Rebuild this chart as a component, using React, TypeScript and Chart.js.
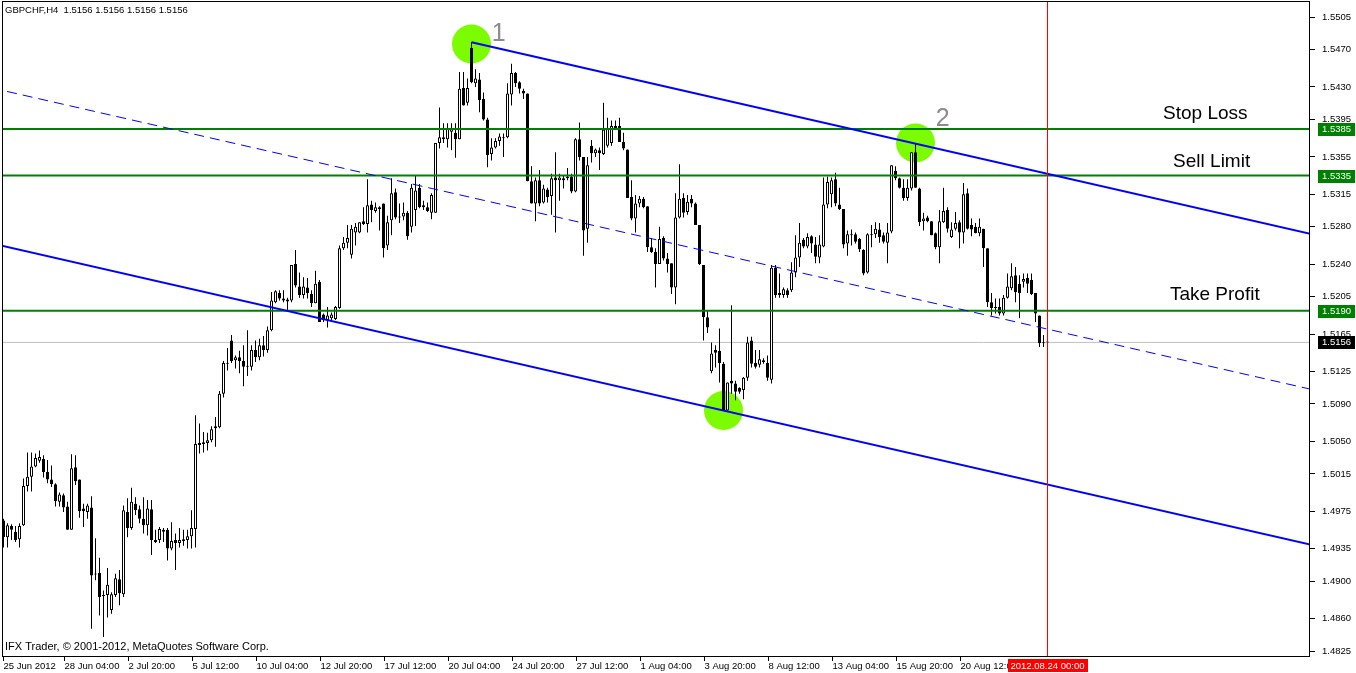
import { useEffect, useRef } from "react";
import { Chart, registerables } from "chart.js";

Chart.register(...registerables);

// GBPCHF H4 bars. Bar numbers count from Mon 25 Jun 2012 00:00 (bar 0),
// six bars per trading day; the first bar on screen is bar 3.
const SYMBOL = "GBPCHF,H4";
const FIRST_BAR = 3;

const opens = [
  1.4965, 1.4947, 1.4959, 1.4953, 1.4945, 1.4960, 1.5002, 1.5012, 1.5023, 1.5029,
  1.5031, 1.5017, 1.5009, 1.5004, 1.4985, 1.4992, 1.4980, 1.4955, 1.5022, 1.5009,
  1.4978, 1.4974, 1.4979, 1.4908, 1.4909, 1.4885, 1.4885, 1.4869, 1.4885, 1.4902,
  1.4886, 1.4974, 1.4957, 1.4983, 1.4977, 1.4967, 1.4960, 1.4977, 1.4944, 1.4944,
  1.4953, 1.4955, 1.4935, 1.4944, 1.4941, 1.4943, 1.4944, 1.4948, 1.4956, 1.5046,
  1.5047, 1.5048, 1.5051, 1.5064, 1.5065, 1.5101, 1.5133, 1.5158, 1.5137, 1.5140,
  1.5136, 1.5130, 1.5130, 1.5148, 1.5140, 1.5153, 1.5148, 1.5169, 1.5199, 1.5209,
  1.5203, 1.5202, 1.5201, 1.5240, 1.5216, 1.5207, 1.5215, 1.5208, 1.5198, 1.5221,
  1.5186, 1.5180, 1.5182, 1.5181, 1.5193, 1.5257, 1.5263, 1.5250, 1.5274, 1.5274,
  1.5286, 1.5283, 1.5304, 1.5297, 1.5301, 1.5305, 1.5260, 1.5287, 1.5317, 1.5291,
  1.5291, 1.5295, 1.5280, 1.5298, 1.5322, 1.5303, 1.5301, 1.5295, 1.5295, 1.5370,
  1.5374, 1.5374, 1.5382, 1.5381, 1.5374, 1.5429, 1.5413, 1.5472, 1.5434, 1.5438,
  1.5417, 1.5395, 1.5358, 1.5365, 1.5372, 1.5375, 1.5376, 1.5422, 1.5445, 1.5435,
  1.5426, 1.5423, 1.5329, 1.5305, 1.5330, 1.5306, 1.5320, 1.5313, 1.5333, 1.5330,
  1.5330, 1.5334, 1.5334, 1.5318, 1.5374, 1.5355, 1.5278, 1.5367, 1.5359, 1.5362,
  1.5358, 1.5367, 1.5370, 1.5386, 1.5388, 1.5371, 1.5363, 1.5312, 1.5289, 1.5305,
  1.5310, 1.5302, 1.5258, 1.5253, 1.5240, 1.5268, 1.5246, 1.5241, 1.5215, 1.5290,
  1.5311, 1.5296, 1.5310, 1.5305, 1.5282, 1.5239, 1.5183, 1.5125, 1.5148, 1.5147,
  1.5133, 1.5083, 1.5115, 1.5112, 1.5107, 1.5105, 1.5118, 1.5158, 1.5134, 1.5132,
  1.5137, 1.5134, 1.5116, 1.5236, 1.5209, 1.5207, 1.5212, 1.5212, 1.5231, 1.5247,
  1.5266, 1.5259, 1.5270, 1.5261, 1.5247, 1.5259, 1.5304, 1.5315, 1.5331, 1.5304,
  1.5299, 1.5262, 1.5272, 1.5272, 1.5267, 1.5255, 1.5231, 1.5271, 1.5272, 1.5277,
  1.5271, 1.5263, 1.5275, 1.5340, 1.5332, 1.5322, 1.5311, 1.5321, 1.5360, 1.5321,
  1.5286, 1.5290, 1.5286, 1.5273, 1.5258, 1.5285, 1.5298, 1.5269, 1.5278, 1.5285,
  1.5274, 1.5316, 1.5282, 1.5280, 1.5273, 1.5278, 1.5257, 1.5199, 1.5193, 1.5194,
  1.5187, 1.5204, 1.5214, 1.5228, 1.5219, 1.5221, 1.5225, 1.5223, 1.5209, 1.5185,
  1.5155, 1.5156,
];

const highs = [
  1.4967, 1.4962, 1.4961, 1.4959, 1.4962, 1.5010, 1.5038, 1.5038, 1.5037, 1.5040,
  1.5035, 1.5030, 1.5024, 1.5005, 1.4995, 1.4994, 1.4985, 1.5036, 1.5035, 1.5009,
  1.4983, 1.4983, 1.4991, 1.4946, 1.4925, 1.4890, 1.4914, 1.4888, 1.4908, 1.4912,
  1.4981, 1.4989, 1.5000, 1.4990, 1.4981, 1.4990, 1.4987, 1.4987, 1.4955, 1.4958,
  1.4957, 1.4957, 1.4963, 1.4951, 1.4957, 1.4955, 1.4955, 1.4976, 1.5078, 1.5069,
  1.5060, 1.5059, 1.5066, 1.5076, 1.5104, 1.5136, 1.5150, 1.5164, 1.5142, 1.5147,
  1.5153, 1.5169, 1.5153, 1.5158, 1.5160, 1.5163, 1.5173, 1.5210, 1.5212, 1.5212,
  1.5212, 1.5204, 1.5239, 1.5255, 1.5231, 1.5226, 1.5225, 1.5212, 1.5233, 1.5223,
  1.5187, 1.5194, 1.5188, 1.5195, 1.5260, 1.5269, 1.5282, 1.5282, 1.5284, 1.5285,
  1.5301, 1.5331, 1.5308, 1.5306, 1.5302, 1.5305, 1.5292, 1.5332, 1.5321, 1.5305,
  1.5306, 1.5297, 1.5326, 1.5335, 1.5326, 1.5308, 1.5306, 1.5316, 1.5370, 1.5408,
  1.5391, 1.5391, 1.5391, 1.5391, 1.5446, 1.5446, 1.5439, 1.5478, 1.5449, 1.5445,
  1.5424, 1.5397, 1.5375, 1.5375, 1.5380, 1.5380, 1.5434, 1.5455, 1.5446, 1.5436,
  1.5428, 1.5423, 1.5345, 1.5333, 1.5341, 1.5325, 1.5322, 1.5337, 1.5360, 1.5337,
  1.5335, 1.5343, 1.5337, 1.5375, 1.5392, 1.5355, 1.5355, 1.5373, 1.5364, 1.5365,
  1.5413, 1.5397, 1.5394, 1.5394, 1.5397, 1.5381, 1.5363, 1.5330, 1.5314, 1.5313,
  1.5312, 1.5302, 1.5268, 1.5257, 1.5280, 1.5270, 1.5252, 1.5241, 1.5316, 1.5347,
  1.5316, 1.5314, 1.5314, 1.5306, 1.5282, 1.5239, 1.5190, 1.5156, 1.5153, 1.5171,
  1.5135, 1.5113, 1.5196, 1.5115, 1.5108, 1.5119, 1.5162, 1.5162, 1.5148, 1.5148,
  1.5139, 1.5142, 1.5239, 1.5239, 1.5230, 1.5215, 1.5214, 1.5242, 1.5271, 1.5284,
  1.5268, 1.5273, 1.5271, 1.5269, 1.5271, 1.5333, 1.5334, 1.5333, 1.5338, 1.5322,
  1.5299, 1.5276, 1.5277, 1.5274, 1.5268, 1.5256, 1.5273, 1.5282, 1.5285, 1.5284,
  1.5274, 1.5284, 1.5346, 1.5345, 1.5333, 1.5331, 1.5331, 1.5360, 1.5370, 1.5322,
  1.5295, 1.5292, 1.5286, 1.5274, 1.5298, 1.5322, 1.5301, 1.5285, 1.5296, 1.5287,
  1.5327, 1.5321, 1.5289, 1.5284, 1.5289, 1.5278, 1.5257, 1.5209, 1.5203, 1.5203,
  1.5207, 1.5230, 1.5241, 1.5237, 1.5228, 1.5230, 1.5230, 1.5230, 1.5209, 1.5185,
  1.5164, 1.5156,
];

const lows = [
  1.4936, 1.4936, 1.4944, 1.4942, 1.4936, 1.4959, 1.4996, 1.4996, 1.5022, 1.5027,
  1.5011, 1.5005, 1.5001, 1.4980, 1.4980, 1.4974, 1.4955, 1.4955, 1.5003, 1.4968,
  1.4958, 1.4967, 1.4849, 1.4901, 1.4863, 1.4840, 1.4861, 1.4865, 1.4883, 1.4874,
  1.4883, 1.4947, 1.4955, 1.4971, 1.4962, 1.4951, 1.4949, 1.4928, 1.4941, 1.4941,
  1.4942, 1.4922, 1.4933, 1.4912, 1.4936, 1.4938, 1.4935, 1.4935, 1.4936, 1.5037,
  1.5038, 1.5040, 1.5049, 1.5044, 1.5064, 1.5097, 1.5126, 1.5134, 1.5128, 1.5123,
  1.5109, 1.5120, 1.5126, 1.5135, 1.5137, 1.5141, 1.5145, 1.5168, 1.5198, 1.5201,
  1.5199, 1.5190, 1.5199, 1.5215, 1.5204, 1.5203, 1.5203, 1.5194, 1.5198, 1.5178,
  1.5178, 1.5172, 1.5178, 1.5180, 1.5192, 1.5255, 1.5257, 1.5246, 1.5260, 1.5273,
  1.5282, 1.5274, 1.5285, 1.5295, 1.5276, 1.5247, 1.5255, 1.5271, 1.5288, 1.5284,
  1.5287, 1.5266, 1.5274, 1.5281, 1.5300, 1.5298, 1.5296, 1.5288, 1.5295, 1.5364,
  1.5370, 1.5365, 1.5362, 1.5354, 1.5374, 1.5410, 1.5410, 1.5434, 1.5430, 1.5403,
  1.5394, 1.5344, 1.5351, 1.5364, 1.5367, 1.5355, 1.5375, 1.5410, 1.5430, 1.5423,
  1.5417, 1.5329, 1.5305, 1.5286, 1.5302, 1.5305, 1.5306, 1.5293, 1.5274, 1.5308,
  1.5321, 1.5330, 1.5316, 1.5317, 1.5351, 1.5249, 1.5263, 1.5349, 1.5355, 1.5341,
  1.5357, 1.5365, 1.5367, 1.5384, 1.5371, 1.5362, 1.5311, 1.5287, 1.5274, 1.5301,
  1.5300, 1.5253, 1.5252, 1.5215, 1.5240, 1.5244, 1.5231, 1.5208, 1.5197, 1.5289,
  1.5290, 1.5293, 1.5301, 1.5282, 1.5239, 1.5158, 1.5166, 1.5123, 1.5129, 1.5113,
  1.5083, 1.5083, 1.5101, 1.5094, 1.5101, 1.5095, 1.5115, 1.5129, 1.5128, 1.5129,
  1.5133, 1.5115, 1.5112, 1.5204, 1.5204, 1.5204, 1.5204, 1.5210, 1.5226, 1.5237,
  1.5257, 1.5257, 1.5252, 1.5241, 1.5241, 1.5258, 1.5300, 1.5301, 1.5302, 1.5298,
  1.5257, 1.5249, 1.5260, 1.5262, 1.5253, 1.5228, 1.5230, 1.5258, 1.5268, 1.5263,
  1.5262, 1.5241, 1.5273, 1.5330, 1.5321, 1.5308, 1.5308, 1.5319, 1.5322, 1.5281,
  1.5276, 1.5285, 1.5271, 1.5256, 1.5241, 1.5284, 1.5274, 1.5268, 1.5276, 1.5257,
  1.5262, 1.5277, 1.5270, 1.5273, 1.5270, 1.5237, 1.5194, 1.5185, 1.5187, 1.5185,
  1.5185, 1.5203, 1.5212, 1.5199, 1.5182, 1.5215, 1.5209, 1.5207, 1.5178, 1.5151,
  1.5151, 1.5156,
];

const closes = [
  1.4947, 1.4960, 1.4955, 1.4944, 1.4959, 1.5002, 1.5012, 1.5023, 1.5032, 1.5033,
  1.5017, 1.5009, 1.5004, 1.4986, 1.4993, 1.4979, 1.4955, 1.5021, 1.5007, 1.4975,
  1.4975, 1.4981, 1.4906, 1.4907, 1.4883, 1.4884, 1.4896, 1.4886, 1.4903, 1.4887,
  1.4976, 1.4957, 1.4985, 1.4976, 1.4967, 1.4960, 1.4978, 1.4944, 1.4942, 1.4956,
  1.4955, 1.4935, 1.4943, 1.4941, 1.4944, 1.4945, 1.4948, 1.4957, 1.5047, 1.5048,
  1.5049, 1.5051, 1.5063, 1.5066, 1.5101, 1.5134, 1.5133, 1.5136, 1.5140, 1.5136,
  1.5130, 1.5130, 1.5148, 1.5140, 1.5153, 1.5148, 1.5169, 1.5201, 1.5211, 1.5203,
  1.5201, 1.5200, 1.5239, 1.5217, 1.5207, 1.5216, 1.5209, 1.5198, 1.5219, 1.5178,
  1.5180, 1.5185, 1.5186, 1.5194, 1.5257, 1.5263, 1.5268, 1.5278, 1.5280, 1.5285,
  1.5283, 1.5303, 1.5298, 1.5301, 1.5299, 1.5257, 1.5285, 1.5316, 1.5290, 1.5290,
  1.5295, 1.5270, 1.5322, 1.5319, 1.5301, 1.5301, 1.5297, 1.5314, 1.5370, 1.5376,
  1.5376, 1.5385, 1.5385, 1.5374, 1.5428, 1.5410, 1.5429, 1.5435, 1.5439, 1.5416,
  1.5395, 1.5357, 1.5365, 1.5372, 1.5377, 1.5376, 1.5423, 1.5445, 1.5434, 1.5428,
  1.5423, 1.5329, 1.5305, 1.5330, 1.5305, 1.5321, 1.5312, 1.5332, 1.5330, 1.5333,
  1.5332, 1.5332, 1.5318, 1.5374, 1.5355, 1.5276, 1.5346, 1.5359, 1.5363, 1.5359,
  1.5384, 1.5386, 1.5388, 1.5388, 1.5371, 1.5364, 1.5311, 1.5289, 1.5305, 1.5310,
  1.5301, 1.5258, 1.5253, 1.5240, 1.5267, 1.5246, 1.5240, 1.5215, 1.5290, 1.5310,
  1.5295, 1.5307, 1.5305, 1.5282, 1.5240, 1.5183, 1.5172, 1.5144, 1.5145, 1.5134,
  1.5083, 1.5113, 1.5112, 1.5103, 1.5103, 1.5118, 1.5156, 1.5133, 1.5130, 1.5138,
  1.5135, 1.5118, 1.5236, 1.5207, 1.5207, 1.5213, 1.5207, 1.5231, 1.5247, 1.5263,
  1.5259, 1.5269, 1.5262, 1.5248, 1.5261, 1.5304, 1.5328, 1.5330, 1.5305, 1.5299,
  1.5261, 1.5272, 1.5271, 1.5264, 1.5256, 1.5230, 1.5272, 1.5272, 1.5278, 1.5269,
  1.5264, 1.5274, 1.5346, 1.5332, 1.5322, 1.5311, 1.5322, 1.5360, 1.5322, 1.5285,
  1.5289, 1.5286, 1.5271, 1.5258, 1.5286, 1.5297, 1.5278, 1.5277, 1.5284, 1.5274,
  1.5315, 1.5278, 1.5277, 1.5273, 1.5280, 1.5257, 1.5199, 1.5193, 1.5194, 1.5187,
  1.5204, 1.5216, 1.5227, 1.5210, 1.5209, 1.5224, 1.5219, 1.5208, 1.5187, 1.5155,
  1.5156, 1.5156,
];

// Time scale
const timeTickBars = [3, 19, 35, 51, 67, 83, 99, 115, 131, 147, 163, 179, 195, 211, 227, 243];
const timeTickLabels = [
  "25 Jun 2012", "28 Jun 04:00", "2 Jul 20:00", "5 Jul 12:00", "10 Jul 04:00", "12 Jul 20:00",
  "17 Jul 12:00", "20 Jul 04:00", "24 Jul 20:00", "27 Jul 12:00", "1 Aug 04:00", "3 Aug 20:00",
  "8 Aug 12:00", "13 Aug 04:00", "15 Aug 20:00", "20 Aug 12:00",
];
const cursorBar = 264;
const cursorLabel = "2012.08.24 00:00";

// Price scale
const priceTicks = [
  1.5505, 1.547, 1.543, 1.5395, 1.5355, 1.5315, 1.528, 1.524, 1.5205, 1.5165,
  1.5125, 1.509, 1.505, 1.5015, 1.4975, 1.4935, 1.49, 1.486, 1.4825,
];
const PRICE_MIN = 1.48186;
const PRICE_MAX = 1.55222;
const BAR_MIN = 2.625;
const BAR_MAX = 329.625;

// Order levels
const levelPrices = [1.5385, 1.5335, 1.519];
const levelNames = ["Stop Loss", "Sell Limit", "Take Profit"];
const levelNameBars = [292.9, 295.4, 294.6];
const levelNamePrices = [1.5401, 1.535, 1.5207];
const bidPrice = 1.5156;

// Descending equidistant channel (bar, price)
const upperChannel = [
  { x: 120, y: 1.5478 },
  { x: 340, y: 1.52624 },
];
const middleChannel = [
  { x: 0, y: 1.5429 },
  { x: 340, y: 1.50958 },
];
const lowerChannel = [
  { x: 0, y: 1.52623 },
  { x: 340, y: 1.49291 },
];

// Touch points of the channel
const swingBars = [120, 231, 183];
const swingPrices = [1.5476, 1.537, 1.5083];
const swingTags = ["1", "2"];
const swingTagBars = [126.8, 237.8];
const swingTagPrices = [1.5487, 1.5396];

const FONT = "'Liberation Sans', Arial, sans-serif";
const AXIS_FONT_SIZE = 9.5;

const terminalPlugin = {
  id: "terminal",
  beforeDraw(chart: any) {
    const { ctx, width, height } = chart;
    ctx.save();
    ctx.fillStyle = "#ffffff";
    ctx.fillRect(0, 0, width, height);
    ctx.restore();
  },
  afterDatasetsDraw(chart: any) {
    const { ctx, chartArea: a, scales } = chart;
    const xs = scales.x;
    const ys = scales.y;
    ctx.save();

    // vertical line at the next bar time
    const cx = Math.round(xs.getPixelForValue(cursorBar) - 0.5) + 0.5;
    ctx.strokeStyle = "#ff0000";
    ctx.lineWidth = 1;
    ctx.beginPath();
    ctx.moveTo(cx, a.top);
    ctx.lineTo(cx, a.bottom);
    ctx.stroke();

    // level captions
    ctx.fillStyle = "#000000";
    ctx.font = `19px ${FONT}`;
    ctx.textAlign = "left";
    ctx.textBaseline = "middle";
    levelNames.forEach((name, k) => {
      ctx.fillText(name, xs.getPixelForValue(levelNameBars[k]), ys.getPixelForValue(levelNamePrices[k]));
    });

    // swing numbers
    ctx.fillStyle = "#8c8c8c";
    ctx.font = `25px ${FONT}`;
    ctx.textAlign = "center";
    swingTags.forEach((t, k) => {
      ctx.fillText(t, xs.getPixelForValue(swingTagBars[k]), ys.getPixelForValue(swingTagPrices[k]));
    });

    // header and copyright
    const last = opens.length - 1;
    const ohlc = [opens[last], highs[last], lows[last], closes[last]].map((v) => v.toFixed(4)).join(" ");
    ctx.fillStyle = "#000000";
    ctx.textAlign = "left";
    ctx.font = `9.5px ${FONT}`;
    ctx.fillText(`${SYMBOL}  ${ohlc}`, a.left + 3, a.top + 9);
    ctx.font = `11px ${FONT}`;
    ctx.fillText("IFX Trader, \u00a9 2001-2012, MetaQuotes Software Corp.", a.left + 3, a.bottom - 10);

    // frame
    ctx.strokeStyle = "#000000";
    ctx.lineWidth = 1;
    ctx.strokeRect(a.left + 0.5, a.top + 0.5, a.right - a.left - 1, a.bottom - a.top - 1);
    ctx.restore();
  },
  afterDraw(chart: any) {
    const { ctx, chartArea: a, scales, width } = chart;
    const xs = scales.x;
    const ys = scales.y;
    ctx.save();
    ctx.font = `${AXIS_FONT_SIZE}px ${FONT}`;
    ctx.textBaseline = "middle";
    ctx.textAlign = "left";

    const tag = (price: number, fill: string) => {
      const y = Math.round(ys.getPixelForValue(price));
      ctx.fillStyle = fill;
      ctx.fillRect(a.right + 8, y - 6, width - a.right - 9, 13);
      ctx.fillStyle = "#ffffff";
      ctx.fillText(price.toFixed(4), a.right + 12, y + 0.5);
    };
    levelPrices.forEach((p) => tag(p, "#008000"));
    tag(bidPrice, "#000000");

    // time label of the vertical line
    const cx = xs.getPixelForValue(cursorBar);
    const w = ctx.measureText(cursorLabel).width + 6;
    ctx.fillStyle = "#ff0000";
    ctx.fillRect(Math.round(cx - w / 2), a.bottom + 2, Math.round(w), 13);
    ctx.fillStyle = "#ffffff";
    ctx.textAlign = "center";
    ctx.fillText(cursorLabel, cx, a.bottom + 9);
    ctx.restore();
  },
};

export default function App() {
  const ref = useRef<HTMLCanvasElement>(null);

  useEffect(() => {
    const canvas = ref.current;
    if (!canvas) return;

    const bars = opens.map((o, k) => ({
      x: FIRST_BAR + k,
      o,
      h: highs[k],
      l: lows[k],
      c: closes[k],
    }));
    const wicks = bars.map((b) => ({ x: b.x, y: [b.l, b.h] }));
    const bodies = bars.map((b) => ({ x: b.x, y: [b.o, b.c] }));
    const bodyFill = bars.map((b) => (b.c - b.o > 0.00015 ? "#ffffff" : "#000000"));

    const flat = (p: number) => [
      { x: 0, y: p },
      { x: 340, y: p },
    ];
    const lineStyle = { type: "line" as const, pointRadius: 0, tension: 0, fill: false };

    const chart = new Chart(canvas, {
      type: "bar",
      data: {
        datasets: [
          { ...lineStyle, data: upperChannel, borderColor: "#0000ff", borderWidth: 2, order: 1 },
          { ...lineStyle, data: lowerChannel, borderColor: "#0000ff", borderWidth: 2, order: 1 },
          { ...lineStyle, data: middleChannel, borderColor: "#0000ff", borderWidth: 1, borderDash: [10, 6], order: 1 },
          ...levelPrices.map((p) => ({ ...lineStyle, data: flat(p), borderColor: "#008000", borderWidth: 2, order: 1 })),
          {
            type: "bar" as const,
            data: bodies,
            backgroundColor: bodyFill,
            borderColor: "#000000",
            borderWidth: 1,
            borderSkipped: false,
            barThickness: 3,
            minBarLength: 1,
            grouped: false,
            inflateAmount: 0,
            order: 2,
          },
          {
            type: "bar" as const,
            data: wicks,
            backgroundColor: "#000000",
            borderWidth: 0,
            barThickness: 1,
            grouped: false,
            inflateAmount: 0,
            order: 3,
          },
          { ...lineStyle, data: flat(bidPrice), borderColor: "#c0c0c0", borderWidth: 1, order: 4 },
          {
            type: "line" as const,
            data: swingBars.map((b, k) => ({ x: b, y: swingPrices[k] })),
            showLine: false,
            pointRadius: 19.5,
            pointBackgroundColor: "#7cfc00",
            pointBorderWidth: 0,
            order: 5,
          },
        ] as any,
      },
      options: {
        responsive: false,
        animation: false,
        events: [],
        layout: { autoPadding: false, padding: { left: 2, top: 1, right: 0, bottom: 0 } },
        plugins: { legend: { display: false }, tooltip: { enabled: false } },
        scales: {
          x: {
            type: "linear",
            position: "bottom",
            min: BAR_MIN,
            max: BAR_MAX,
            offset: false,
            grid: { offset: false, drawOnChartArea: false, drawTicks: true, tickLength: 4, color: "#000000" },
            border: { display: false },
            afterBuildTicks: (axis: any) => {
              axis.ticks = timeTickBars.map((b, k) => ({ value: k === 0 ? b : b - 0.75 }));
            },
            afterFit: (axis: any) => {
              axis.height = 16;
              axis.paddingLeft = 0;
              axis.paddingRight = 0;
            },
            ticks: {
              autoSkip: false,
              maxRotation: 0,
              minRotation: 0,
              align: "start",
              padding: 0,
              color: "#000000",
              font: { family: FONT, size: AXIS_FONT_SIZE },
              callback: (_v: any, k: number) => timeTickLabels[k],
            },
          },
          y: {
            type: "linear",
            position: "right",
            min: PRICE_MIN,
            max: PRICE_MAX,
            grid: { drawOnChartArea: false, drawTicks: true, tickLength: 5, color: "#000000" },
            border: { display: false },
            afterBuildTicks: (axis: any) => {
              axis.ticks = priceTicks.map((v) => ({ value: v }));
            },
            afterFit: (axis: any) => {
              axis.width = 46;
              axis.paddingTop = 0;
              axis.paddingBottom = 0;
            },
            ticks: {
              autoSkip: false,
              padding: 7,
              color: "#000000",
              font: { family: FONT, size: AXIS_FONT_SIZE },
              callback: (v: any) => Number(v).toFixed(4),
            },
          },
        },
      } as any,
      plugins: [terminalPlugin],
    });

    return () => chart.destroy();
  }, []);

  return (
    <div style={{ position: "fixed", left: 0, top: 0, width: 1356, height: 673, background: "#ffffff" }}>
      <canvas ref={ref} width={1356} height={673} style={{ display: "block" }} />
    </div>
  );
}
